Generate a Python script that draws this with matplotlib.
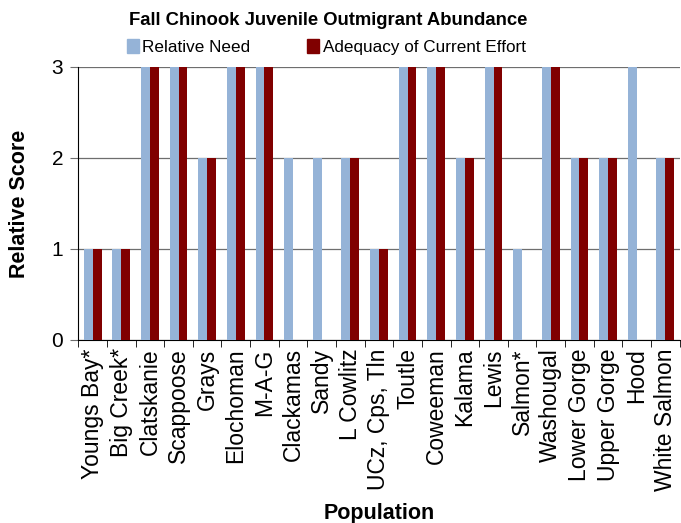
import numpy as np
import matplotlib
matplotlib.use("Agg")
import matplotlib.pyplot as plt
from matplotlib.patches import Patch

plt.rcParams['font.family'] = ['Liberation Sans', 'DejaVu Sans']

# populations and scores
populations = ["Youngs Bay*", "Big Creek*", "Clatskanie", "Scappoose", "Grays",
               "Elochoman", "M-A-G", "Clackamas", "Sandy", "L Cowlitz",
               "UCz, Cps, Tln", "Toutle", "Coweeman", "Kalama", "Lewis",
               "Salmon*", "Washougal", "Lower Gorge", "Upper Gorge", "Hood",
               "White Salmon"]
relative_need = [1, 1, 3, 3, 2, 3, 3, 2, 2, 2, 1, 3, 3, 2, 3, 1, 3, 2, 2, 3, 2]
adequacy = [1, 1, 3, 3, 2, 3, 3, 0, 0, 2, 1, 3, 3, 2, 3, 0, 3, 2, 2, 0, 2]

blue = "#95B3D7"
red = "#800000"

fig = plt.figure(figsize=(6.81, 5.23), dpi=100)
ax = fig.add_axes([0.115, 0.35, 0.883, 0.522])

x = np.arange(len(populations))
w = 0.31
ax.bar(x - w / 2, relative_need, w, color=blue, zorder=3)
ax.bar(x + w / 2, adequacy, w, color=red, zorder=3)

ax.set_xlim(-0.5, len(populations) - 0.5)
ax.set_ylim(0, 3)
ax.set_yticks([0, 1, 2, 3])
ax.yaxis.grid(True, color="#6e6e6e", linewidth=0.9, zorder=0)
ax.tick_params(axis="y", labelsize=15, length=6, color="#6e6e6e", pad=5)

ax.set_xticks(x)
ax.set_xticklabels(populations, rotation=90, fontsize=16.5)
ax.set_xticks(np.arange(-0.5, len(populations), 1), minor=True)
ax.tick_params(axis="x", which="major", length=0, pad=6)
ax.tick_params(axis="x", which="minor", length=5, direction="out")

for s in ["top", "right"]:
    ax.spines[s].set_visible(False)

ax.set_ylabel("Relative Score", fontsize=15.5, fontweight="bold", labelpad=15)
ax.set_xlabel("Population", fontsize=15.5, fontweight="bold", labelpad=9)

fig.text(0.482, 0.961, "Fall Chinook Juvenile Outmigrant Abundance",
         ha="center", va="center", fontsize=13.3, fontweight="bold")
handles = [Patch(color=blue, label="Relative Need"),
           Patch(color=red, label="Adequacy of Current Effort")]
fig.legend(handles=handles, loc="center", bbox_to_anchor=(0.479, 0.911), ncol=2,
           frameon=False, fontsize=12.3, handlelength=0.7, handleheight=0.9,
           handletextpad=0.2, columnspacing=3.35)

fig.savefig("out.png", dpi=100)
